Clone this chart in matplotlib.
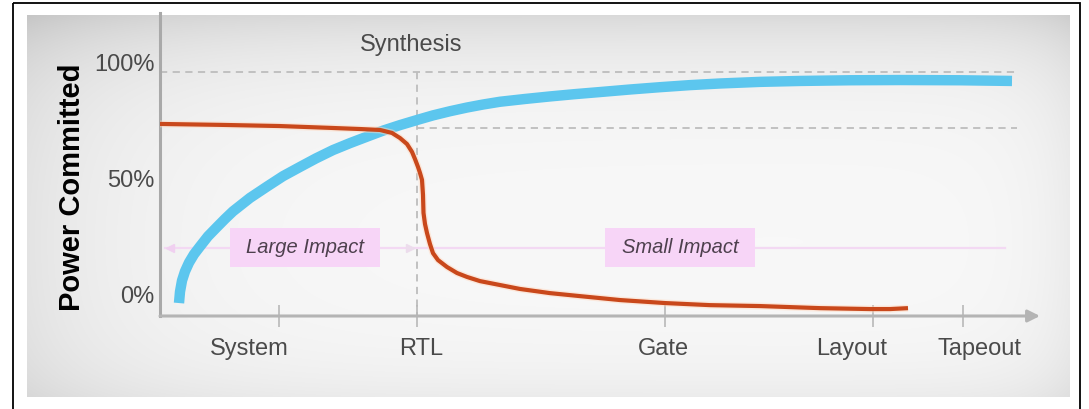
import numpy as np
import matplotlib
matplotlib.use("Agg")
import matplotlib.pyplot as plt
from matplotlib.patches import Rectangle
from matplotlib.transforms import ScaledTranslation

plt.rcParams['font.family'] = ['Liberation Sans', 'DejaVu Sans']

# ---------------- data ----------------
stage_labels = ["System", "RTL", "Gate", "Layout", "Tapeout"]
stage_pos = [119, 257, 505, 713, 803]

ytick_vals = [0, 50, 100]
ytick_labels = ["0%", "50%", "100%"]

# red: ability to impact power
red_x = [0, 60, 119, 170, 200, 220, 232, 240, 247, 252, 255, 258, 260, 262, 263,
         263.5, 265, 267, 270, 273, 278, 287, 297, 307, 320, 340, 360, 390, 420,
         460, 505, 550, 600, 660, 710, 730, 748]
red_y = [73.6, 73.2, 72.7, 71.9, 71.4, 71.0, 69.7, 67.5, 64.9, 61.5, 58.4, 55.0,
         52.4, 49.4, 42.9, 35.1, 30.3, 26.4, 21.6, 17.7, 14.7, 11.7, 9.1, 7.4,
         5.6, 3.9, 2.2, 0.4, -0.9, -2.6, -3.9, -4.8, -5.2, -6.1, -6.5, -6.5, -6.1]

# blue: power committed
blue_x = [19, 20, 22, 25, 29, 34, 40, 48, 57, 65, 73, 90, 107, 123, 140, 156, 173,
          190, 207, 223, 240, 257, 273, 290, 307, 323, 340, 365, 390, 415, 440,
          470, 500, 530, 560, 600, 640, 690, 740, 800, 852]
blue_y = [-3.9, 1.0, 5.8, 9.8, 13.6, 17.2, 20.6, 25.0, 29.0, 32.5, 35.8, 41.6,
          46.5, 51.0, 55.0, 58.7, 62.3, 65.3, 68.1, 70.7, 73.1, 75.3, 77.3, 79.1,
          80.7, 82.0, 83.2, 84.4, 85.5, 86.5, 87.4, 88.5, 89.5, 90.4, 91.1, 91.8,
          92.2, 92.5, 92.6, 92.5, 92.2]

ref_high = 96.1
ref_low = 71.9
synthesis_x = 257
impact_level = 19.9

# ---------------- figure ----------------
fig = plt.figure(figsize=(10.89, 4.09), dpi=100)

# background panel + frame (pixel coords)
bg = fig.add_axes([0, 0, 1, 1], zorder=0)
bg.axis("off")
W, H = 1043, 382
X = np.linspace(0, 1, W)[None, :]
Y = np.linspace(0, 1, H)[:, None]
v = (0.975 - 0.12 * np.exp(-Y * H / 50) - 0.08 * np.exp(-X * W / 110)
     - 0.05 * np.exp(-(1 - X) * W / 40) - 0.05 * np.exp(-(1 - Y) * H / 40))
v = np.clip(v, 0, 1)
img = np.dstack([v, v, v])
bg.imshow(img, extent=[27, 1070, 397, 15], aspect="auto", interpolation="bilinear")
bg.add_patch(Rectangle((13, 3), 1067, 420, fill=False, edgecolor="black", lw=1.3))
bg.set_xlim(0, 1089)
bg.set_ylim(409, 0)

ax = fig.add_axes([160 / 1089, 93 / 409, 880 / 1089, 303 / 409], zorder=1)
ax.patch.set_alpha(0)
ax.set_xlim(0, 880)
ax.set_ylim(-9.5, 121.6)

for s in ["top", "right", "bottom"]:
    ax.spines[s].set_visible(False)
ax.spines["left"].set_color("#a9a9a9")
ax.spines["left"].set_linewidth(2.2)

# x axis with arrow
ax.annotate("", xy=(1.0, 0), xytext=(0, 0), xycoords="axes fraction",
            textcoords="axes fraction",
            arrowprops=dict(arrowstyle="-|>", color="#b4b4b4", lw=2.2,
                            mutation_scale=18, shrinkA=0, shrinkB=0))

# reference dashed lines
dash = dict(color="#bdbdbd", lw=1.3, dashes=(4, 3), zorder=1)
ax.plot([0, 857], [ref_high, ref_high], **dash)
ax.plot([synthesis_x, 857], [ref_low, ref_low], **dash)
ax.plot([synthesis_x, synthesis_x], [ref_high, -9.5], **dash)

# impact band
ax.plot([5, 845], [impact_level, impact_level], color="#f3d9f3", lw=1.6, zorder=1)
ax.plot([10], [impact_level], marker="<", color="#f0d0f0", ms=6, zorder=1)
ax.plot([250], [impact_level], marker=">", color="#ecdcec", ms=6, zorder=1)

for (x0, x1, lab) in [(70, 220, "Large Impact"), (445, 595, "Small Impact")]:
    ax.add_patch(Rectangle((x0, 11.7), x1 - x0, 16.9, facecolor="#f7d5f7",
                           edgecolor="none", zorder=2))
    ax.text((x0 + x1) / 2, 20.2, lab, ha="center", va="center", fontsize=14.5,
            style="italic", color="#4d404d", zorder=3)

# curves
ax.plot(blue_x, blue_y, color="#5cc6ee", lw=7.5, solid_capstyle="butt",
        solid_joinstyle="round", zorder=4)
ax.plot(red_x, red_y, color="#ffd9c0", lw=5.0, alpha=0.5, solid_capstyle="butt",
        solid_joinstyle="round", zorder=5)
ax.plot(red_x, red_y, color="#c9481b", lw=3.0, solid_capstyle="butt",
        solid_joinstyle="round", zorder=6)

ax.text(synthesis_x - 6, 107.8, "Synthesis", ha="center", va="center",
        fontsize=17, color="#4a4a4a")

# ticks
ax.set_yticks(ytick_vals)
ax.set_yticklabels(ytick_labels)
ax.tick_params(axis="y", length=0, pad=4, labelsize=17, labelcolor="#4a4a4a")

ax.set_xticks(stage_pos)
ax.set_xticklabels(stage_labels)
ax.tick_params(axis="x", direction="inout", length=16, width=1.2, color="#b8b8b8",
               pad=7.5, labelsize=17, labelcolor="#4a4a4a")
label_shift_px = [-30, 4, -2, -21, 17]
for lab, dx in zip(ax.get_xticklabels(), label_shift_px):
    lab.set_transform(lab.get_transform() + ScaledTranslation(dx / 100, 0, fig.dpi_scale_trans))

fig.text(72 / 1089, 1 - 187 / 409, "Power Committed", rotation=90, ha="center",
         va="center", fontsize=21, fontweight="bold", color="black")

fig.savefig("out.png", dpi=100)
